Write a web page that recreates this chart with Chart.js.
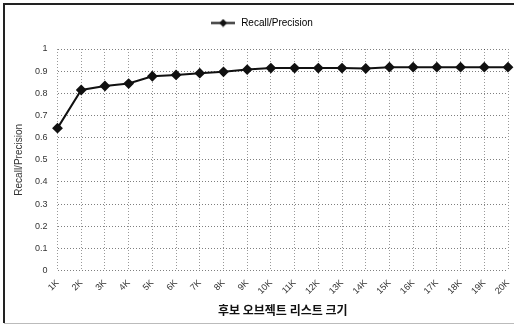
<!DOCTYPE html>
<html>
<head>
<meta charset="utf-8">
<script src="https://cdn.jsdelivr.net/npm/chart.js@4"></script>
<style>
  html, body { margin: 0; padding: 0; background: #fff; }
  #wrap { width: 514px; height: 326px; position: relative; }
</style>
</head>
<body>
<div id="wrap"><canvas id="chart" width="514" height="326"></canvas></div>
<script>
// Candidate list sizes (x axis)
const listSizes = ['1K', '2K', '3K', '4K', '5K', '6K', '7K', '8K', '9K', '10K',
                   '11K', '12K', '13K', '14K', '15K', '16K', '17K', '18K', '19K', '20K'];

// Recall/Precision
const recallPrecision = [0.643, 0.815, 0.833, 0.844, 0.877, 0.883, 0.891, 0.897, 0.907, 0.914,
                         0.914, 0.914, 0.914, 0.912, 0.918, 0.918, 0.918, 0.918, 0.918, 0.918];

const seriesLabel = 'Recall/Precision';
const xTitle = '후보 오브젝트 리스트 크기';
const yTitle = 'Recall/Precision';

// legend swatch: a line with a diamond in the middle
function makeLegendMarker() {
    const c = document.createElement('canvas');
    c.width = 24;
    c.height = 9;
    const g = c.getContext('2d');
    g.strokeStyle = '#111';
    g.lineWidth = 2;
    g.beginPath();
    g.moveTo(0, 4.5);
    g.lineTo(24, 4.5);
    g.stroke();
    g.fillStyle = '#111';
    g.beginPath();
    g.moveTo(12, 0.5);
    g.lineTo(16, 4.5);
    g.lineTo(12, 8.5);
    g.lineTo(8, 4.5);
    g.closePath();
    g.fill();
    return c;
}
const legendMarker = makeLegendMarker();

// thin frame round the figure, like the scanned box
const framePlugin = {
    id: 'frame',
    beforeDraw(chart) {
        const c = chart.ctx;
        c.save();
        c.fillStyle = '#fff';
        c.fillRect(0, 0, chart.width, chart.height);
        c.strokeStyle = '#222';
        c.lineWidth = 2;
        c.beginPath();
        c.moveTo(4, chart.height - 3);
        c.lineTo(4, 4);
        c.lineTo(chart.width, 4);
        c.stroke();
        c.strokeStyle = '#bbb';
        c.lineWidth = 1;
        c.beginPath();
        c.moveTo(4, chart.height - 2.5);
        c.lineTo(chart.width, chart.height - 2.5);
        c.stroke();
        c.restore();
    }
};

// extra room under the legend
const legendGap = {
    id: 'legendGap',
    beforeInit(chart) {
        const fit = chart.legend.fit;
        chart.legend.fit = function () {
            fit.bind(chart.legend)();
            this.height += 11;
        };
    }
};

const tickFont = { family: 'Liberation Sans, Arial, sans-serif', size: 9 };

new Chart(document.getElementById('chart'), {
    type: 'line',
    data: {
        labels: listSizes,
        datasets: [{
            label: seriesLabel,
            data: recallPrecision,
            borderColor: '#111',
            backgroundColor: '#111',
            borderWidth: 2,
            tension: 0,
            pointStyle: 'rectRot',
            pointRadius: 4,
            pointBackgroundColor: '#111',
            pointBorderColor: '#111',
            fill: false
        }]
    },
    options: {
        responsive: false,
        animation: false,
        layout: { padding: { left: 13, right: 4, top: 1, bottom: 8 } },
        plugins: {
            legend: {
                display: true,
                position: 'top',
                labels: {
                    usePointStyle: true,
                    pointStyleWidth: 26,
                    color: '#222',
                    font: { family: 'Liberation Sans, Arial, sans-serif', size: 10 },
                    padding: 17,
                    generateLabels(chart) {
                        return [{
                            text: seriesLabel,
                            fillStyle: '#111',
                            strokeStyle: '#111',
                            lineWidth: 0,
                            pointStyle: legendMarker,
                            datasetIndex: 0
                        }];
                    }
                }
            },
            tooltip: { enabled: false }
        },
        scales: {
            x: {
                offset: false,
                afterFit(scale) {
                    scale.paddingRight = 0;
                },
                grid: {
                    color: 'rgba(0,0,0,0.4)',
                    lineWidth: 1,
                    drawTicks: false
                },
                border: { display: false, dash: [1, 2] },
                ticks: {
                    color: '#333',
                    font: tickFont,
                    minRotation: 45,
                    maxRotation: 45,
                    padding: 7,
                    autoSkip: false
                },
                title: {
                    display: true,
                    text: xTitle,
                    color: '#111',
                    font: { family: 'Noto Sans CJK KR, sans-serif', size: 12, weight: 'bold' },
                    padding: { top: 0, bottom: 0 }
                }
            },
            y: {
                min: 0,
                max: 1,
                grid: {
                    color: 'rgba(0,0,0,0.5)',
                    lineWidth: 1,
                    drawTicks: false
                },
                border: { display: false, dash: [1, 2] },
                ticks: {
                    stepSize: 0.1,
                    color: '#333',
                    font: tickFont,
                    padding: 10,
                    callback: v => (Math.round(v * 10) / 10).toString()
                },
                title: {
                    display: true,
                    text: yTitle,
                    color: '#333',
                    font: { family: 'Liberation Sans, Arial, sans-serif', size: 10 },
                    padding: { top: 0, bottom: 0 }
                }
            }
        }
    },
    plugins: [framePlugin, legendGap]
});
</script>
</body>
</html>
